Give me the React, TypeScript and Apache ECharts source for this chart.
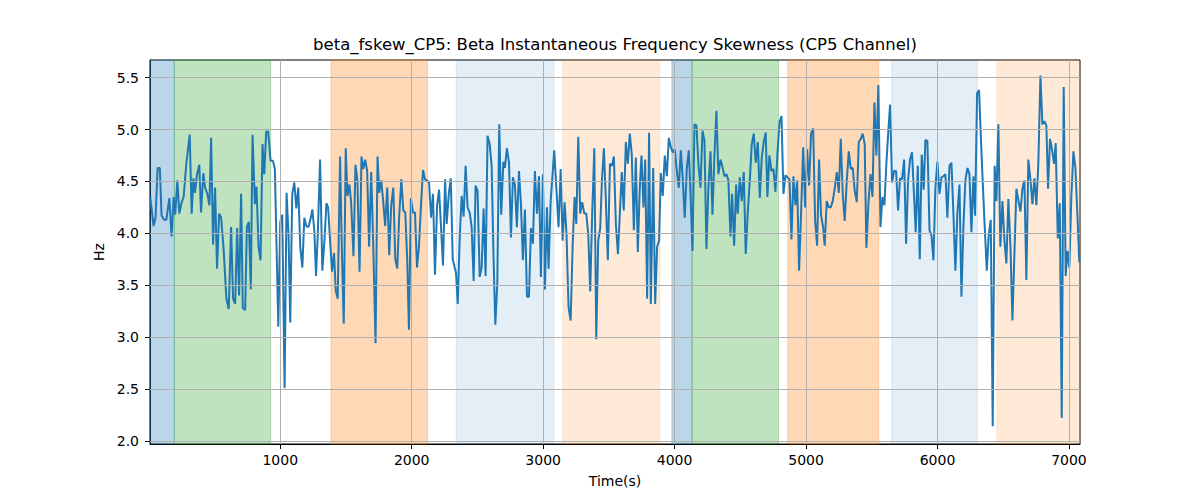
import { useEffect, useRef } from 'react';
import * as echarts from 'echarts';

// sample times (s) and beta skewness (Hz)
const timeSec = [
  11, 36, 51, 67, 84, 97, 117, 133, 156, 173, 189, 201, 217, 232, 250, 265, 285, 311, 326, 339,
  351, 367, 384, 397, 415, 428, 446, 461, 474, 489, 504, 519, 535, 550, 568, 590, 608, 626, 641, 657,
  672, 687, 702, 715, 733, 746, 761, 776, 789, 807, 819, 835, 850, 865, 878, 893, 908, 926, 944, 959,
  985, 1000, 1015, 1033, 1048, 1063, 1076, 1091, 1107, 1122, 1137, 1152, 1168, 1183, 1198, 1214, 1229, 1244, 1259, 1272,
  1285, 1303, 1320, 1336, 1351, 1364, 1379, 1394, 1409, 1422, 1437, 1455, 1468, 1483, 1498, 1511, 1526, 1539, 1557, 1572,
  1587, 1603, 1618, 1631, 1646, 1661, 1676, 1692, 1707, 1725, 1740, 1753, 1768, 1783, 1798, 1814, 1829, 1844, 1860, 1875,
  1890, 1905, 1921, 1936, 1951, 1966, 1979, 1994, 2010, 2025, 2040, 2055, 2071, 2086, 2101, 2116, 2132, 2147, 2162, 2177,
  2193, 2208, 2223, 2238, 2254, 2266, 2282, 2297, 2312, 2327, 2337, 2350, 2365, 2380, 2395, 2410, 2425, 2441, 2456, 2471,
  2486, 2501, 2517, 2532, 2547, 2562, 2577, 2593, 2608, 2623, 2636, 2651, 2666, 2681, 2697, 2709, 2724, 2740, 2755, 2770,
  2785, 2800, 2816, 2831, 2846, 2861, 2877, 2892, 2907, 2922, 2937, 2953, 2968, 2983, 2998, 3013, 3029, 3041, 3057, 3069,
  3084, 3100, 3117, 3133, 3148, 3163, 3178, 3193, 3209, 3224, 3239, 3252, 3267, 3282, 3297, 3313, 3328, 3343, 3358, 3373,
  3389, 3404, 3419, 3434, 3447, 3462, 3477, 3492, 3508, 3523, 3538, 3553, 3569, 3598, 3613, 3629, 3644, 3659, 3674, 3690,
  3705, 3720, 3735, 3748, 3763, 3776, 3791, 3806, 3819, 3837, 3852, 3867, 3882, 3895, 3910, 3925, 3941, 3956, 3971, 3986,
  4001, 4017, 4032, 4047, 4062, 4077, 4093, 4108, 4123, 4136, 4151, 4166, 4181, 4197, 4212, 4227, 4242, 4257, 4273, 4288,
  4303, 4318, 4333, 4349, 4364, 4379, 4394, 4409, 4425, 4437, 4453, 4468, 4480, 4496, 4511, 4526, 4541, 4556, 4572, 4587,
  4602, 4617, 4633, 4648, 4663, 4678, 4693, 4706, 4721, 4737, 4752, 4767, 4782, 4798, 4813, 4828, 4843, 4858, 4874, 4889,
  4904, 4919, 4932, 4947, 4962, 4978, 4993, 5008, 5023, 5038, 5054, 5069, 5084, 5099, 5114, 5130, 5142, 5157, 5173, 5188,
  5203, 5218, 5234, 5249, 5264, 5279, 5294, 5310, 5325, 5340, 5355, 5370, 5386, 5401, 5416, 5431, 5446, 5459, 5474, 5490,
  5505, 5520, 5535, 5550, 5566, 5581, 5596, 5611, 5626, 5639, 5654, 5670, 5685, 5700, 5715, 5730, 5746, 5761, 5776, 5791,
  5806, 5822, 5834, 5850, 5865, 5880, 5895, 5908, 5923, 5939, 5954, 5969, 5984, 5999, 6015, 6030, 6045, 6060, 6075, 6091,
  6106, 6121, 6136, 6151, 6167, 6182, 6197, 6212, 6228, 6243, 6258, 6273, 6286, 6301, 6316, 6337, 6357, 6375, 6390, 6405,
  6420, 6435, 6448, 6463, 6478, 6494, 6509, 6524, 6539, 6555, 6570, 6585, 6600, 6615, 6631, 6646, 6661, 6676, 6691, 6707,
  6722, 6737, 6752, 6767, 6783, 6798, 6813, 6828, 6841, 6856, 6871, 6887, 6899, 6915, 6930, 6945, 6960, 6975, 6988, 7003,
  7018, 7034, 7049, 7064, 7079,
];

const skewHz = [
  4.35, 4.07, 4.15, 4.63, 4.63, 4.17, 4.13, 4.13, 4.34, 3.97, 4.35, 4.18, 4.51, 4.19, 4.30, 4.35, 4.67, 4.95, 4.19, 4.53,
  4.39, 4.57, 4.66, 4.20, 4.58, 4.44, 4.38, 4.27, 4.92, 3.89, 4.44, 3.66, 4.19, 4.15, 3.87, 3.37, 3.27, 4.06, 3.37, 3.32,
  4.05, 3.40, 4.38, 3.28, 3.26, 4.06, 4.11, 3.46, 4.95, 4.28, 4.45, 3.87, 3.74, 4.86, 4.57, 4.98, 4.98, 4.70, 4.70, 4.62,
  3.10, 4.11, 4.18, 2.51, 4.39, 3.98, 3.14, 4.38, 4.49, 4.24, 4.44, 3.87, 3.67, 4.15, 4.07, 4.06, 4.13, 4.23, 4.03, 3.59,
  3.98, 4.71, 3.64, 3.93, 4.29, 4.25, 3.93, 3.63, 3.81, 3.45, 3.37, 4.74, 3.87, 3.13, 4.82, 4.36, 4.47, 4.30, 3.78, 4.66,
  4.51, 3.63, 4.74, 4.62, 4.71, 4.60, 3.87, 4.59, 3.90, 2.94, 4.74, 4.39, 4.51, 4.31, 4.07, 4.44, 3.79, 4.27, 4.44, 3.75,
  3.66, 4.17, 4.52, 4.22, 4.20, 3.74, 3.07, 4.34, 4.20, 4.20, 3.67, 3.87, 4.28, 4.61, 4.52, 4.51, 4.49, 4.15, 4.38, 3.60,
  4.27, 4.42, 4.06, 3.69, 4.52, 4.09, 4.38, 4.53, 3.75, 3.67, 3.62, 3.32, 3.95, 4.36, 4.16, 4.65, 4.25, 4.20, 4.06, 3.54,
  4.46, 4.41, 3.58, 3.67, 4.24, 3.59, 4.94, 4.86, 4.65, 3.74, 3.12, 3.51, 5.05, 4.18, 4.69, 4.63, 4.82, 4.68, 3.96, 4.54,
  4.47, 4.06, 4.60, 4.28, 3.74, 4.23, 3.39, 3.39, 4.05, 3.90, 4.60, 4.19, 4.55, 3.58, 4.57, 3.46, 4.25, 3.66, 4.31, 4.52,
  4.80, 4.44, 4.06, 4.62, 3.93, 4.30, 3.98, 3.29, 3.16, 3.87, 4.35, 4.09, 4.93, 4.19, 4.30, 4.19, 4.19, 3.99, 3.44, 4.19,
  4.82, 2.98, 3.93, 4.05, 4.51, 4.82, 4.31, 3.74, 4.67, 4.65, 4.74, 4.09, 3.80, 4.59, 4.22, 4.88, 4.67, 4.96, 4.76, 4.03,
  4.73, 3.82, 4.44, 4.75, 4.25, 4.71, 3.37, 4.97, 3.32, 4.63, 3.32, 3.87, 3.93, 4.58, 4.36, 4.75, 4.55, 4.92, 4.83, 4.78,
  4.81, 4.60, 4.44, 4.80, 4.52, 4.15, 4.63, 4.80, 4.31, 3.83, 5.05, 5.04, 4.67, 4.44, 4.99, 4.89, 3.85, 4.44, 4.79, 4.18,
  4.75, 5.18, 4.57, 4.71, 4.64, 4.55, 4.57, 4.51, 3.97, 4.38, 3.88, 4.47, 4.19, 4.54, 4.31, 4.59, 3.80, 4.19, 4.51, 4.86,
  4.96, 4.68, 4.88, 4.34, 4.73, 4.88, 4.97, 4.35, 4.75, 4.60, 4.62, 4.40, 4.76, 5.07, 5.13, 4.38, 4.56, 4.54, 4.52, 3.94,
  4.55, 4.27, 4.51, 3.64, 4.19, 4.83, 4.25, 4.81, 4.46, 4.96, 5.01, 4.12, 3.88, 4.71, 4.17, 4.06, 3.88, 4.31, 4.25, 4.25,
  4.31, 4.43, 4.59, 4.39, 4.91, 4.38, 4.12, 4.51, 4.79, 4.62, 4.63, 4.41, 4.30, 4.88, 4.91, 4.96, 4.86, 3.86, 4.28, 4.57,
  4.35, 5.26, 4.75, 5.43, 4.06, 4.35, 4.27, 4.67, 4.99, 5.24, 4.49, 4.60, 4.60, 4.22, 4.53, 4.52, 4.71, 3.90, 4.51, 4.71,
  4.78, 4.35, 4.01, 4.65, 3.75, 4.76, 4.42, 4.90, 4.89, 4.03, 3.98, 3.74, 4.44, 4.69, 4.38, 4.54, 4.55, 4.57, 4.15, 4.65,
  4.68, 4.19, 3.64, 4.19, 4.47, 3.39, 4.06, 4.51, 4.63, 4.57, 4.01, 4.55, 4.17, 5.35, 5.38, 4.70, 4.12, 3.64, 3.99, 4.13,
  2.14, 4.65, 4.31, 5.05, 3.87, 4.31, 3.93, 3.71, 4.33, 3.87, 3.16, 3.80, 4.43, 4.32, 4.21, 4.43, 4.51, 3.55, 4.71, 4.52,
  4.28, 4.53, 4.27, 4.67, 5.52, 5.05, 5.08, 5.04, 4.43, 4.91, 4.81, 4.67, 4.87, 3.95, 4.29, 2.22, 5.41, 3.59, 3.83, 3.67,
  4.35, 4.79, 4.63, 4.19, 3.72,
];

// shaded task periods
const spanStart = [9, 194, 1386, 2339, 3150, 3979, 4133, 4861, 5652, 6451];
const spanEnd = [194, 927, 2121, 3082, 3887, 4133, 4790, 5553, 6304, 7084];
const spanKind = ['blue', 'green', 'orange', 'paleBlue', 'paleOrange', 'blue', 'green', 'orange', 'paleBlue', 'paleOrange'];

const xTicks = [1000, 2000, 3000, 4000, 5000, 6000, 7000];
const yTicks = [2.0, 2.5, 3.0, 3.5, 4.0, 4.5, 5.0, 5.5];

const spanColor: Record<string, string> = {
  blue: 'rgba(31,119,180,0.3)',
  green: 'rgba(44,160,44,0.3)',
  orange: 'rgba(255,127,14,0.3)',
  paleBlue: 'rgba(31,119,180,0.12)',
  paleOrange: 'rgba(255,127,14,0.16)',
};

const FONT = 'DejaVu Sans';

export default function App() {
  const chartRef = useRef<HTMLDivElement>(null);

  useEffect(() => {
    if (!chartRef.current) return;
    const chart = echarts.init(chartRef.current, undefined, { renderer: 'svg' });

    const gridLine = { color: '#b0b0b0', width: 1, type: 'solid' as const };

    chart.setOption({
      animation: false,
      title: {
        text: 'beta_fskew_CP5: Beta Instantaneous Frequency Skewness (CP5 Channel)',
        left: 615,
        top: 36,
        textAlign: 'center',
        padding: 0,
        textStyle: { fontFamily: FONT, fontSize: 16.5, fontWeight: 'normal', color: '#000' },
      },
      grid: { left: 150, right: 120, top: 60, bottom: 56, show: true, borderColor: '#000', borderWidth: 1, backgroundColor: 'transparent' },
      xAxis: {
        type: 'value',
        min: 9,
        max: 7084,
        name: 'Time(s)',
        nameLocation: 'middle',
        nameGap: 30,
        nameTextStyle: { fontFamily: FONT, fontSize: 14, color: '#000' },
        axisLine: { show: true, lineStyle: { color: '#000', width: 1 } },
        axisTick: { show: true, inside: false, length: 5, lineStyle: { color: '#000' }, customValues: xTicks },
        axisLabel: {
          fontFamily: FONT,
          fontSize: 14,
          color: '#000',
          margin: 9,
          customValues: xTicks,
          formatter: (v: number) => String(v),
        },
        splitLine: { show: false },
      },
      yAxis: {
        type: 'value',
        min: 1.97,
        max: 5.67,
        name: 'Hz',
        nameLocation: 'middle',
        nameGap: 33,
        nameTextStyle: { fontFamily: FONT, fontSize: 14, color: '#000' },
        axisLine: { show: true, lineStyle: { color: '#000', width: 1 } },
        axisTick: { show: true, inside: false, length: 5, lineStyle: { color: '#000' }, customValues: yTicks },
        axisLabel: {
          fontFamily: FONT,
          fontSize: 14,
          color: '#000',
          margin: 11,
          customValues: yTicks,
          formatter: (v: number) => v.toFixed(1),
        },
        splitLine: { show: false },
      },
      series: [
        {
          name: 'spans',
          type: 'line',
          z: 1,
          data: [],
          silent: true,
          markArea: {
            silent: true,
            data: spanStart.map((s, i) => [
              {
                xAxis: s,
                itemStyle: { color: spanColor[spanKind[i]], borderColor: spanColor[spanKind[i]], borderWidth: 1 },
              },
              { xAxis: spanEnd[i] },
            ]),
          },
        },
        {
          name: 'grid',
          type: 'line',
          z: 2,
          data: [],
          silent: true,
          markLine: {
            silent: true,
            symbol: 'none',
            label: { show: false },
            lineStyle: gridLine,
            data: [...xTicks.map((v) => ({ xAxis: v })), ...yTicks.map((v) => ({ yAxis: v }))],
          },
        },
        {
          name: 'beta_fskew_CP5',
          type: 'line',
          z: 3,
          showSymbol: false,
          symbol: 'none',
          lineStyle: { color: '#1f77b4', width: 2 },
          data: timeSec.map((t, i) => [t, skewHz[i]]),
        },
      ],
    });

    return () => chart.dispose();
  }, []);

  return <div ref={chartRef} style={{ position: 'absolute', left: 0, top: 0, width: 1200, height: 500 }} />;
}
